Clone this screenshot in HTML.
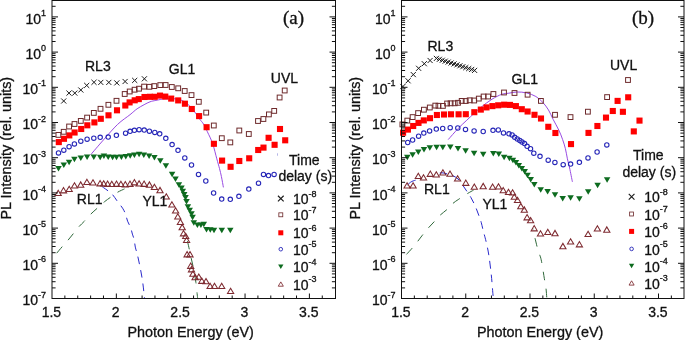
<!DOCTYPE html><html><head><meta charset="utf-8"><style>html,body{margin:0;padding:0;background:#fff;overflow:hidden}svg{display:block;will-change:transform} text{stroke:#111;stroke-width:0.3px}</style></head><body><svg width="685" height="340" viewBox="0 0 685 340" style="font-family:'Liberation Sans',sans-serif">
<rect width="685" height="340" fill="#fff"/>
<path d="M90.80,154.60C92.90,152.17 98.93,145.03 103.40,140.00C107.87,134.97 113.17,128.62 117.60,124.40C122.03,120.18 126.75,117.30 130.00,114.70C133.25,112.10 134.75,110.47 137.10,108.80C139.45,107.13 141.95,105.87 144.10,104.70C146.25,103.53 148.03,102.52 150.00,101.80C151.97,101.08 153.40,100.90 155.90,100.40C158.40,99.90 161.82,99.07 165.00,98.80C168.18,98.53 171.83,98.35 175.00,98.80C178.17,99.25 181.17,99.88 184.00,101.50C186.83,103.12 189.43,105.62 192.00,108.50C194.57,111.38 197.47,116.18 199.40,118.80C201.33,121.42 202.27,122.03 203.60,124.20C204.93,126.37 205.90,128.58 207.40,131.80C208.90,135.02 211.03,139.00 212.60,143.50C214.17,148.00 215.65,154.63 216.80,158.80C217.95,162.97 218.73,165.55 219.50,168.50C220.27,171.45 220.75,173.35 221.40,176.50C222.05,179.65 223.07,185.58 223.40,187.40" fill="none" stroke="#9240e0" stroke-width="0.95"/>
<path d="M56.70,253.20C57.68,252.03 60.73,248.35 62.60,246.20C64.47,244.05 66.13,242.37 67.90,240.30C69.67,238.23 71.33,236.10 73.20,233.80C75.07,231.50 77.23,228.60 79.10,226.50C80.97,224.40 82.45,223.27 84.40,221.20C86.35,219.13 88.65,216.27 90.80,214.10C92.95,211.93 95.03,210.25 97.30,208.20C99.57,206.15 102.15,203.65 104.40,201.80C106.65,199.95 108.65,198.67 110.80,197.10C112.95,195.53 115.02,193.77 117.30,192.40C119.58,191.03 123.30,189.48 124.50,188.90" fill="none" stroke="#30693b" stroke-width="1.0" stroke-dasharray="8.5,8.8" stroke-dashoffset="0.00"/>
<path d="M186.60,238.00C186.90,239.22 187.63,241.95 188.40,245.30C189.17,248.65 190.30,253.98 191.20,258.10C192.10,262.22 193.02,265.95 193.80,270.00C194.58,274.05 195.35,278.50 195.90,282.40C196.45,286.30 196.82,290.80 197.10,293.40C197.38,296.00 197.52,297.23 197.60,298.00" fill="none" stroke="#30693b" stroke-width="1.0" stroke-dasharray="8.5,8.8" stroke-dashoffset="13.98"/>
<path d="M101.20,185.80C101.58,186.10 102.37,186.77 103.50,187.60C104.63,188.43 106.48,189.62 108.00,190.80C109.52,191.98 111.05,192.97 112.60,194.70C114.15,196.43 115.63,198.95 117.30,201.20C118.97,203.45 121.23,206.05 122.60,208.20C123.97,210.35 124.67,211.93 125.50,214.10C126.33,216.27 126.75,218.95 127.60,221.20C128.45,223.45 129.80,225.45 130.60,227.60C131.40,229.75 131.82,232.13 132.40,234.10C132.98,236.07 133.62,237.23 134.10,239.40C134.58,241.57 134.80,244.75 135.30,247.10C135.80,249.45 136.48,251.02 137.10,253.50C137.72,255.98 138.35,258.92 139.00,262.00C139.65,265.08 140.37,268.50 141.00,272.00C141.63,275.50 142.22,278.67 142.80,283.00C143.38,287.33 144.22,295.50 144.50,298.00" fill="none" stroke="#2a2acc" stroke-width="1.0" stroke-dasharray="7.6,6.0" stroke-dashoffset="12.71"/>
<path d="M55.10,195.55H61.30L58.20,190.30Z" fill="none" stroke="#7e2a30" stroke-width="1.05" stroke-linejoin="miter"/>
<path d="M60.40,192.85H66.60L63.50,187.60Z" fill="none" stroke="#7e2a30" stroke-width="1.05" stroke-linejoin="miter"/>
<path d="M66.10,191.55H72.30L69.20,186.30Z" fill="none" stroke="#7e2a30" stroke-width="1.05" stroke-linejoin="miter"/>
<path d="M71.40,188.05H77.60L74.50,182.80Z" fill="none" stroke="#7e2a30" stroke-width="1.05" stroke-linejoin="miter"/>
<path d="M77.60,187.15H83.80L80.70,181.90Z" fill="none" stroke="#7e2a30" stroke-width="1.05" stroke-linejoin="miter"/>
<path d="M83.80,184.55H90.00L86.90,179.30Z" fill="none" stroke="#7e2a30" stroke-width="1.05" stroke-linejoin="miter"/>
<path d="M89.90,184.95H96.10L93.00,179.70Z" fill="none" stroke="#7e2a30" stroke-width="1.05" stroke-linejoin="miter"/>
<path d="M97.00,185.85H103.20L100.10,180.60Z" fill="none" stroke="#7e2a30" stroke-width="1.05" stroke-linejoin="miter"/>
<path d="M100.60,185.95H106.80L103.70,180.70Z" fill="none" stroke="#7e2a30" stroke-width="1.05" stroke-linejoin="miter"/>
<path d="M104.50,186.35H110.70L107.60,181.10Z" fill="none" stroke="#7e2a30" stroke-width="1.05" stroke-linejoin="miter"/>
<path d="M108.70,186.55H114.90L111.80,181.30Z" fill="none" stroke="#7e2a30" stroke-width="1.05" stroke-linejoin="miter"/>
<path d="M113.40,186.35H119.60L116.50,181.10Z" fill="none" stroke="#7e2a30" stroke-width="1.05" stroke-linejoin="miter"/>
<path d="M117.80,186.55H124.00L120.90,181.30Z" fill="none" stroke="#7e2a30" stroke-width="1.05" stroke-linejoin="miter"/>
<path d="M122.20,186.85H128.40L125.30,181.60Z" fill="none" stroke="#7e2a30" stroke-width="1.05" stroke-linejoin="miter"/>
<path d="M126.90,186.35H133.10L130.00,181.10Z" fill="none" stroke="#7e2a30" stroke-width="1.05" stroke-linejoin="miter"/>
<path d="M131.30,184.85H137.50L134.40,179.60Z" fill="none" stroke="#7e2a30" stroke-width="1.05" stroke-linejoin="miter"/>
<path d="M136.00,185.95H142.20L139.10,180.70Z" fill="none" stroke="#7e2a30" stroke-width="1.05" stroke-linejoin="miter"/>
<path d="M141.00,186.35H147.20L144.10,181.10Z" fill="none" stroke="#7e2a30" stroke-width="1.05" stroke-linejoin="miter"/>
<path d="M146.30,187.15H152.50L149.40,181.90Z" fill="none" stroke="#7e2a30" stroke-width="1.05" stroke-linejoin="miter"/>
<path d="M151.30,189.55H157.50L154.40,184.30Z" fill="none" stroke="#7e2a30" stroke-width="1.05" stroke-linejoin="miter"/>
<path d="M156.90,192.65H163.10L160.00,187.40Z" fill="none" stroke="#7e2a30" stroke-width="1.05" stroke-linejoin="miter"/>
<path d="M163.20,198.95H169.40L166.30,193.70Z" fill="none" stroke="#7e2a30" stroke-width="1.05" stroke-linejoin="miter"/>
<path d="M168.80,207.05H175.00L171.90,201.80Z" fill="none" stroke="#7e2a30" stroke-width="1.05" stroke-linejoin="miter"/>
<path d="M172.50,213.05H178.70L175.60,207.80Z" fill="none" stroke="#7e2a30" stroke-width="1.05" stroke-linejoin="miter"/>
<path d="M174.70,219.05H180.90L177.80,213.80Z" fill="none" stroke="#7e2a30" stroke-width="1.05" stroke-linejoin="miter"/>
<path d="M177.30,224.45H183.50L180.40,219.20Z" fill="none" stroke="#7e2a30" stroke-width="1.05" stroke-linejoin="miter"/>
<path d="M179.10,229.65H185.30L182.20,224.40Z" fill="none" stroke="#7e2a30" stroke-width="1.05" stroke-linejoin="miter"/>
<path d="M180.40,235.85H186.60L183.50,230.60Z" fill="none" stroke="#7e2a30" stroke-width="1.05" stroke-linejoin="miter"/>
<path d="M182.60,238.45H188.80L185.70,233.20Z" fill="none" stroke="#7e2a30" stroke-width="1.05" stroke-linejoin="miter"/>
<path d="M183.50,242.45H189.70L186.60,237.20Z" fill="none" stroke="#7e2a30" stroke-width="1.05" stroke-linejoin="miter"/>
<path d="M184.00,256.85H190.20L187.10,251.60Z" fill="none" stroke="#7e2a30" stroke-width="1.05" stroke-linejoin="miter"/>
<path d="M186.90,256.85H193.10L190.00,251.60Z" fill="none" stroke="#7e2a30" stroke-width="1.05" stroke-linejoin="miter"/>
<path d="M187.60,268.35H193.80L190.70,263.10Z" fill="none" stroke="#7e2a30" stroke-width="1.05" stroke-linejoin="miter"/>
<path d="M188.40,271.85H194.60L191.50,266.60Z" fill="none" stroke="#7e2a30" stroke-width="1.05" stroke-linejoin="miter"/>
<path d="M189.80,276.25H196.00L192.90,271.00Z" fill="none" stroke="#7e2a30" stroke-width="1.05" stroke-linejoin="miter"/>
<path d="M192.00,279.65H198.20L195.10,274.40Z" fill="none" stroke="#7e2a30" stroke-width="1.05" stroke-linejoin="miter"/>
<path d="M195.70,279.25H201.90L198.80,274.00Z" fill="none" stroke="#7e2a30" stroke-width="1.05" stroke-linejoin="miter"/>
<path d="M198.70,283.35H204.90L201.80,278.10Z" fill="none" stroke="#7e2a30" stroke-width="1.05" stroke-linejoin="miter"/>
<path d="M202.90,283.75H209.10L206.00,278.50Z" fill="none" stroke="#7e2a30" stroke-width="1.05" stroke-linejoin="miter"/>
<path d="M207.00,288.55H213.20L210.10,283.30Z" fill="none" stroke="#7e2a30" stroke-width="1.05" stroke-linejoin="miter"/>
<path d="M211.40,288.55H217.60L214.50,283.30Z" fill="none" stroke="#7e2a30" stroke-width="1.05" stroke-linejoin="miter"/>
<path d="M218.60,288.45H224.80L221.70,283.20Z" fill="none" stroke="#7e2a30" stroke-width="1.05" stroke-linejoin="miter"/>
<path d="M227.50,293.55H233.70L230.60,288.30Z" fill="none" stroke="#7e2a30" stroke-width="1.05" stroke-linejoin="miter"/>
<path d="M55.25,165.90H61.75L58.50,171.40Z" fill="#0d6b1f"/>
<path d="M60.55,162.40H67.05L63.80,167.90Z" fill="#0d6b1f"/>
<path d="M65.85,159.80H72.35L69.10,165.30Z" fill="#0d6b1f"/>
<path d="M71.15,156.80H77.65L74.40,162.30Z" fill="#0d6b1f"/>
<path d="M77.55,155.60H84.05L80.80,161.10Z" fill="#0d6b1f"/>
<path d="M83.85,154.40H90.35L87.10,159.90Z" fill="#0d6b1f"/>
<path d="M90.55,154.40H97.05L93.80,159.90Z" fill="#0d6b1f"/>
<path d="M96.95,154.70H103.45L100.20,160.20Z" fill="#0d6b1f"/>
<path d="M100.65,153.40H107.15L103.90,158.90Z" fill="#0d6b1f"/>
<path d="M104.95,154.60H111.45L108.20,160.10Z" fill="#0d6b1f"/>
<path d="M109.35,154.70H115.85L112.60,160.20Z" fill="#0d6b1f"/>
<path d="M113.25,154.80H119.75L116.50,160.30Z" fill="#0d6b1f"/>
<path d="M118.15,154.40H124.65L121.40,159.90Z" fill="#0d6b1f"/>
<path d="M122.55,153.90H129.05L125.80,159.40Z" fill="#0d6b1f"/>
<path d="M126.95,153.30H133.45L130.20,158.80Z" fill="#0d6b1f"/>
<path d="M131.15,152.40H137.65L134.40,157.90Z" fill="#0d6b1f"/>
<path d="M135.85,151.80H142.35L139.10,157.30Z" fill="#0d6b1f"/>
<path d="M140.55,152.40H147.05L143.80,157.90Z" fill="#0d6b1f"/>
<path d="M145.85,153.60H152.35L149.10,159.10Z" fill="#0d6b1f"/>
<path d="M151.15,155.10H157.65L154.40,160.60Z" fill="#0d6b1f"/>
<path d="M157.05,158.30H163.55L160.30,163.80Z" fill="#0d6b1f"/>
<path d="M162.65,163.30H169.15L165.90,168.80Z" fill="#0d6b1f"/>
<path d="M168.85,171.80H175.35L172.10,177.30Z" fill="#0d6b1f"/>
<path d="M172.25,176.40H178.75L175.50,181.90Z" fill="#0d6b1f"/>
<path d="M175.65,182.20H182.15L178.90,187.70Z" fill="#0d6b1f"/>
<path d="M178.25,185.60H184.75L181.50,191.10Z" fill="#0d6b1f"/>
<path d="M179.55,188.70H186.05L182.80,194.20Z" fill="#0d6b1f"/>
<path d="M180.95,191.90H187.45L184.20,197.40Z" fill="#0d6b1f"/>
<path d="M182.25,194.90H188.75L185.50,200.40Z" fill="#0d6b1f"/>
<path d="M183.25,198.90H189.75L186.50,204.40Z" fill="#0d6b1f"/>
<path d="M184.65,204.20H191.15L187.90,209.70Z" fill="#0d6b1f"/>
<path d="M186.45,207.70H192.95L189.70,213.20Z" fill="#0d6b1f"/>
<path d="M188.25,211.20H194.75L191.50,216.70Z" fill="#0d6b1f"/>
<path d="M189.35,214.80H195.85L192.60,220.30Z" fill="#0d6b1f"/>
<path d="M190.55,220.20H197.05L193.80,225.70Z" fill="#0d6b1f"/>
<path d="M194.15,222.40H200.65L197.40,227.90Z" fill="#0d6b1f"/>
<path d="M197.65,222.40H204.15L200.90,227.90Z" fill="#0d6b1f"/>
<path d="M200.55,221.80H207.05L203.80,227.30Z" fill="#0d6b1f"/>
<path d="M203.25,227.10H209.75L206.50,232.60Z" fill="#0d6b1f"/>
<path d="M207.05,227.30H213.55L210.30,232.80Z" fill="#0d6b1f"/>
<path d="M210.75,227.70H217.25L214.00,233.20Z" fill="#0d6b1f"/>
<path d="M218.55,227.70H225.05L221.80,233.20Z" fill="#0d6b1f"/>
<path d="M227.05,227.70H233.55L230.30,233.20Z" fill="#0d6b1f"/>
<circle cx="58.50" cy="152.90" r="2.2" fill="none" stroke="#2626b8" stroke-width="1.1"/>
<circle cx="63.80" cy="150.20" r="2.2" fill="none" stroke="#2626b8" stroke-width="1.1"/>
<circle cx="69.10" cy="146.70" r="2.2" fill="none" stroke="#2626b8" stroke-width="1.1"/>
<circle cx="74.40" cy="143.90" r="2.2" fill="none" stroke="#2626b8" stroke-width="1.1"/>
<circle cx="80.80" cy="141.20" r="2.2" fill="none" stroke="#2626b8" stroke-width="1.1"/>
<circle cx="87.10" cy="139.20" r="2.2" fill="none" stroke="#2626b8" stroke-width="1.1"/>
<circle cx="93.80" cy="138.20" r="2.2" fill="none" stroke="#2626b8" stroke-width="1.1"/>
<circle cx="100.20" cy="137.30" r="2.2" fill="none" stroke="#2626b8" stroke-width="1.1"/>
<circle cx="108.20" cy="137.10" r="2.2" fill="none" stroke="#2626b8" stroke-width="1.1"/>
<circle cx="116.40" cy="135.30" r="2.2" fill="none" stroke="#2626b8" stroke-width="1.1"/>
<circle cx="125.60" cy="133.20" r="2.2" fill="none" stroke="#2626b8" stroke-width="1.1"/>
<circle cx="130.10" cy="131.30" r="2.2" fill="none" stroke="#2626b8" stroke-width="1.1"/>
<circle cx="134.40" cy="130.30" r="2.2" fill="none" stroke="#2626b8" stroke-width="1.1"/>
<circle cx="139.10" cy="129.70" r="2.2" fill="none" stroke="#2626b8" stroke-width="1.1"/>
<circle cx="144.20" cy="130.10" r="2.2" fill="none" stroke="#2626b8" stroke-width="1.1"/>
<circle cx="149.40" cy="131.20" r="2.2" fill="none" stroke="#2626b8" stroke-width="1.1"/>
<circle cx="154.80" cy="132.40" r="2.2" fill="none" stroke="#2626b8" stroke-width="1.1"/>
<circle cx="159.70" cy="133.80" r="2.2" fill="none" stroke="#2626b8" stroke-width="1.1"/>
<circle cx="165.80" cy="138.30" r="2.2" fill="none" stroke="#2626b8" stroke-width="1.1"/>
<circle cx="172.10" cy="144.60" r="2.2" fill="none" stroke="#2626b8" stroke-width="1.1"/>
<circle cx="178.00" cy="150.30" r="2.2" fill="none" stroke="#2626b8" stroke-width="1.1"/>
<circle cx="184.80" cy="157.90" r="2.2" fill="none" stroke="#2626b8" stroke-width="1.1"/>
<circle cx="191.50" cy="165.00" r="2.2" fill="none" stroke="#2626b8" stroke-width="1.1"/>
<circle cx="198.50" cy="174.40" r="2.2" fill="none" stroke="#2626b8" stroke-width="1.1"/>
<circle cx="205.80" cy="181.00" r="2.2" fill="none" stroke="#2626b8" stroke-width="1.1"/>
<circle cx="213.60" cy="193.00" r="2.2" fill="none" stroke="#2626b8" stroke-width="1.1"/>
<circle cx="221.70" cy="199.10" r="2.2" fill="none" stroke="#2626b8" stroke-width="1.1"/>
<circle cx="230.30" cy="199.30" r="2.2" fill="none" stroke="#2626b8" stroke-width="1.1"/>
<circle cx="238.90" cy="196.30" r="2.2" fill="none" stroke="#2626b8" stroke-width="1.1"/>
<circle cx="248.80" cy="189.10" r="2.2" fill="none" stroke="#2626b8" stroke-width="1.1"/>
<circle cx="258.50" cy="183.20" r="2.2" fill="none" stroke="#2626b8" stroke-width="1.1"/>
<circle cx="263.50" cy="174.40" r="2.2" fill="none" stroke="#2626b8" stroke-width="1.1"/>
<circle cx="268.50" cy="175.60" r="2.2" fill="none" stroke="#2626b8" stroke-width="1.1"/>
<circle cx="274.10" cy="174.40" r="2.2" fill="none" stroke="#2626b8" stroke-width="1.1"/>
<circle cx="280.30" cy="154.50" r="2.2" fill="none" stroke="#2626b8" stroke-width="1.1"/>
<rect x="55.75" y="139.05" width="6.1" height="6.1" fill="#ff0000"/>
<rect x="60.95" y="135.75" width="6.1" height="6.1" fill="#ff0000"/>
<rect x="66.25" y="132.35" width="6.1" height="6.1" fill="#ff0000"/>
<rect x="71.55" y="129.45" width="6.1" height="6.1" fill="#ff0000"/>
<rect x="78.15" y="125.95" width="6.1" height="6.1" fill="#ff0000"/>
<rect x="84.25" y="122.25" width="6.1" height="6.1" fill="#ff0000"/>
<rect x="91.35" y="119.35" width="6.1" height="6.1" fill="#ff0000"/>
<rect x="97.75" y="115.75" width="6.1" height="6.1" fill="#ff0000"/>
<rect x="105.45" y="112.25" width="6.1" height="6.1" fill="#ff0000"/>
<rect x="113.95" y="107.25" width="6.1" height="6.1" fill="#ff0000"/>
<rect x="122.25" y="102.45" width="6.1" height="6.1" fill="#ff0000"/>
<rect x="126.55" y="99.35" width="6.1" height="6.1" fill="#ff0000"/>
<rect x="131.65" y="97.25" width="6.1" height="6.1" fill="#ff0000"/>
<rect x="135.75" y="96.05" width="6.1" height="6.1" fill="#ff0000"/>
<rect x="141.45" y="93.95" width="6.1" height="6.1" fill="#ff0000"/>
<rect x="146.95" y="93.75" width="6.1" height="6.1" fill="#ff0000"/>
<rect x="151.65" y="93.75" width="6.1" height="6.1" fill="#ff0000"/>
<rect x="156.95" y="92.55" width="6.1" height="6.1" fill="#ff0000"/>
<rect x="162.25" y="93.55" width="6.1" height="6.1" fill="#ff0000"/>
<rect x="168.15" y="95.55" width="6.1" height="6.1" fill="#ff0000"/>
<rect x="175.15" y="97.35" width="6.1" height="6.1" fill="#ff0000"/>
<rect x="181.85" y="100.65" width="6.1" height="6.1" fill="#ff0000"/>
<rect x="188.75" y="105.95" width="6.1" height="6.1" fill="#ff0000"/>
<rect x="196.05" y="113.05" width="6.1" height="6.1" fill="#ff0000"/>
<rect x="203.55" y="124.15" width="6.1" height="6.1" fill="#ff0000"/>
<rect x="210.85" y="140.75" width="6.1" height="6.1" fill="#ff0000"/>
<rect x="219.05" y="157.55" width="6.1" height="6.1" fill="#ff0000"/>
<rect x="227.55" y="163.75" width="6.1" height="6.1" fill="#ff0000"/>
<rect x="236.25" y="157.95" width="6.1" height="6.1" fill="#ff0000"/>
<rect x="246.15" y="155.25" width="6.1" height="6.1" fill="#ff0000"/>
<rect x="255.15" y="146.95" width="6.1" height="6.1" fill="#ff0000"/>
<rect x="260.45" y="144.55" width="6.1" height="6.1" fill="#ff0000"/>
<rect x="265.55" y="134.75" width="6.1" height="6.1" fill="#ff0000"/>
<rect x="271.55" y="141.75" width="6.1" height="6.1" fill="#ff0000"/>
<rect x="276.95" y="125.95" width="6.1" height="6.1" fill="#ff0000"/>
<rect x="282.15" y="137.25" width="6.1" height="6.1" fill="#ff0000"/>
<rect x="56.00" y="132.50" width="4.8" height="4.8" fill="none" stroke="#6e2a2c" stroke-width="1.0"/>
<rect x="61.30" y="129.40" width="4.8" height="4.8" fill="none" stroke="#6e2a2c" stroke-width="1.0"/>
<rect x="66.70" y="124.10" width="4.8" height="4.8" fill="none" stroke="#6e2a2c" stroke-width="1.0"/>
<rect x="72.10" y="121.60" width="4.8" height="4.8" fill="none" stroke="#6e2a2c" stroke-width="1.0"/>
<rect x="78.40" y="118.50" width="4.8" height="4.8" fill="none" stroke="#6e2a2c" stroke-width="1.0"/>
<rect x="84.70" y="115.20" width="4.8" height="4.8" fill="none" stroke="#6e2a2c" stroke-width="1.0"/>
<rect x="91.40" y="110.50" width="4.8" height="4.8" fill="none" stroke="#6e2a2c" stroke-width="1.0"/>
<rect x="98.10" y="106.40" width="4.8" height="4.8" fill="none" stroke="#6e2a2c" stroke-width="1.0"/>
<rect x="106.00" y="102.40" width="4.8" height="4.8" fill="none" stroke="#6e2a2c" stroke-width="1.0"/>
<rect x="114.10" y="98.40" width="4.8" height="4.8" fill="none" stroke="#6e2a2c" stroke-width="1.0"/>
<rect x="122.30" y="91.60" width="4.8" height="4.8" fill="none" stroke="#6e2a2c" stroke-width="1.0"/>
<rect x="127.30" y="89.10" width="4.8" height="4.8" fill="none" stroke="#6e2a2c" stroke-width="1.0"/>
<rect x="132.20" y="87.30" width="4.8" height="4.8" fill="none" stroke="#6e2a2c" stroke-width="1.0"/>
<rect x="136.60" y="86.30" width="4.8" height="4.8" fill="none" stroke="#6e2a2c" stroke-width="1.0"/>
<rect x="141.70" y="84.20" width="4.8" height="4.8" fill="none" stroke="#6e2a2c" stroke-width="1.0"/>
<rect x="147.00" y="84.40" width="4.8" height="4.8" fill="none" stroke="#6e2a2c" stroke-width="1.0"/>
<rect x="151.90" y="83.70" width="4.8" height="4.8" fill="none" stroke="#6e2a2c" stroke-width="1.0"/>
<rect x="157.90" y="82.70" width="4.8" height="4.8" fill="none" stroke="#6e2a2c" stroke-width="1.0"/>
<rect x="163.20" y="82.60" width="4.8" height="4.8" fill="none" stroke="#6e2a2c" stroke-width="1.0"/>
<rect x="169.40" y="84.60" width="4.8" height="4.8" fill="none" stroke="#6e2a2c" stroke-width="1.0"/>
<rect x="175.80" y="85.90" width="4.8" height="4.8" fill="none" stroke="#6e2a2c" stroke-width="1.0"/>
<rect x="182.30" y="88.60" width="4.8" height="4.8" fill="none" stroke="#6e2a2c" stroke-width="1.0"/>
<rect x="189.10" y="92.70" width="4.8" height="4.8" fill="none" stroke="#6e2a2c" stroke-width="1.0"/>
<rect x="196.40" y="99.40" width="4.8" height="4.8" fill="none" stroke="#6e2a2c" stroke-width="1.0"/>
<rect x="203.80" y="110.20" width="4.8" height="4.8" fill="none" stroke="#6e2a2c" stroke-width="1.0"/>
<rect x="211.40" y="123.10" width="4.8" height="4.8" fill="none" stroke="#6e2a2c" stroke-width="1.0"/>
<rect x="219.40" y="135.80" width="4.8" height="4.8" fill="none" stroke="#6e2a2c" stroke-width="1.0"/>
<rect x="227.90" y="140.00" width="4.8" height="4.8" fill="none" stroke="#6e2a2c" stroke-width="1.0"/>
<rect x="236.90" y="128.10" width="4.8" height="4.8" fill="none" stroke="#6e2a2c" stroke-width="1.0"/>
<rect x="246.40" y="131.60" width="4.8" height="4.8" fill="none" stroke="#6e2a2c" stroke-width="1.0"/>
<rect x="255.60" y="118.60" width="4.8" height="4.8" fill="none" stroke="#6e2a2c" stroke-width="1.0"/>
<rect x="261.00" y="116.60" width="4.8" height="4.8" fill="none" stroke="#6e2a2c" stroke-width="1.0"/>
<rect x="266.50" y="112.00" width="4.8" height="4.8" fill="none" stroke="#6e2a2c" stroke-width="1.0"/>
<rect x="271.80" y="108.50" width="4.8" height="4.8" fill="none" stroke="#6e2a2c" stroke-width="1.0"/>
<rect x="277.20" y="95.10" width="4.8" height="4.8" fill="none" stroke="#6e2a2c" stroke-width="1.0"/>
<rect x="282.30" y="88.10" width="4.8" height="4.8" fill="none" stroke="#6e2a2c" stroke-width="1.0"/>
<path d="M61.15,98.45L66.25,103.55M61.15,103.55L66.25,98.45" stroke="#1a1a1a" stroke-width="1.0" fill="none"/>
<path d="M66.45,90.55L71.55,95.65M66.45,95.65L71.55,90.55" stroke="#1a1a1a" stroke-width="1.0" fill="none"/>
<path d="M72.25,90.55L77.35,95.65M72.25,95.65L77.35,90.55" stroke="#1a1a1a" stroke-width="1.0" fill="none"/>
<path d="M78.25,87.45L83.35,92.55M78.25,92.55L83.35,87.45" stroke="#1a1a1a" stroke-width="1.0" fill="none"/>
<path d="M84.15,82.85L89.25,87.95M84.15,87.95L89.25,82.85" stroke="#1a1a1a" stroke-width="1.0" fill="none"/>
<path d="M91.45,79.75L96.55,84.85M91.45,84.85L96.55,79.75" stroke="#1a1a1a" stroke-width="1.0" fill="none"/>
<path d="M98.25,79.85L103.35,84.95M98.25,84.95L103.35,79.85" stroke="#1a1a1a" stroke-width="1.0" fill="none"/>
<path d="M106.25,79.85L111.35,84.95M106.25,84.95L111.35,79.85" stroke="#1a1a1a" stroke-width="1.0" fill="none"/>
<path d="M114.25,80.35L119.35,85.45M114.25,85.45L119.35,80.35" stroke="#1a1a1a" stroke-width="1.0" fill="none"/>
<path d="M122.55,78.95L127.65,84.05M122.55,84.05L127.65,78.95" stroke="#1a1a1a" stroke-width="1.0" fill="none"/>
<path d="M132.15,77.85L137.25,82.95M132.15,82.95L137.25,77.85" stroke="#1a1a1a" stroke-width="1.0" fill="none"/>
<path d="M141.85,76.25L146.95,81.35M141.85,81.35L146.95,76.25" stroke="#1a1a1a" stroke-width="1.0" fill="none"/>
<path d="M448.20,139.60C449.87,137.73 455.10,131.63 458.20,128.40C461.30,125.17 464.17,122.68 466.80,120.20C469.43,117.72 471.53,115.73 474.00,113.50C476.47,111.27 478.60,109.18 481.60,106.80C484.60,104.42 488.63,101.28 492.00,99.20C495.37,97.12 499.00,95.30 501.80,94.30C504.60,93.30 506.25,93.58 508.80,93.20C511.35,92.82 514.15,92.05 517.10,92.00C520.05,91.95 523.37,92.15 526.50,92.90C529.63,93.65 533.17,94.90 535.90,96.50C538.63,98.10 540.80,100.25 542.90,102.50C545.00,104.75 546.78,107.17 548.50,110.00C550.22,112.83 551.48,116.15 553.20,119.50C554.92,122.85 557.23,126.77 558.80,130.10C560.37,133.43 561.50,136.40 562.60,139.50C563.70,142.60 564.60,145.48 565.40,148.70C566.20,151.92 566.70,155.58 567.40,158.80C568.10,162.02 568.77,164.17 569.60,168.00C570.43,171.83 571.93,179.50 572.40,181.80" fill="none" stroke="#9240e0" stroke-width="0.95"/>
<path d="M406.50,254.40C407.48,253.32 410.55,250.05 412.40,247.90C414.25,245.75 415.93,243.62 417.60,241.50C419.27,239.38 420.73,237.32 422.40,235.20C424.07,233.08 425.65,231.03 427.60,228.80C429.55,226.57 432.03,224.05 434.10,221.80C436.17,219.55 437.83,217.37 440.00,215.30C442.17,213.23 444.95,211.38 447.10,209.40C449.25,207.42 450.95,205.10 452.90,203.40C454.85,201.70 456.38,200.83 458.80,199.20C461.22,197.57 464.93,195.12 467.40,193.60C469.87,192.08 472.57,190.68 473.60,190.10" fill="none" stroke="#30693b" stroke-width="1.0" stroke-dasharray="8.5,8.8" stroke-dashoffset="0.00"/>
<path d="M532.60,228.00C532.77,228.83 533.20,231.30 533.60,233.00C534.00,234.70 534.25,235.27 535.00,238.20C535.75,241.13 537.07,247.00 538.10,250.60C539.13,254.20 540.17,255.18 541.20,259.80C542.23,264.42 543.52,273.67 544.30,278.30C545.08,282.93 545.48,284.32 545.90,287.60C546.32,290.88 546.65,296.27 546.80,298.00" fill="none" stroke="#30693b" stroke-width="1.0" stroke-dasharray="8.5,8.8" stroke-dashoffset="6.82"/>
<path d="M407.50,185.00C408.02,184.53 409.65,182.88 410.60,182.20C411.55,181.52 412.20,181.28 413.20,180.90C414.20,180.52 416.03,180.07 416.60,179.90" fill="none" stroke="#2a2acc" stroke-width="1.0" stroke-dasharray="9.5,6" stroke-dashoffset="0.00"/>
<path d="M437.50,173.20C438.25,173.13 440.58,172.73 442.00,172.80C443.42,172.87 444.27,173.15 446.00,173.60C447.73,174.05 450.40,174.60 452.40,175.50C454.40,176.40 456.30,177.42 458.00,179.00C459.70,180.58 461.10,182.92 462.60,185.00C464.10,187.08 465.63,189.45 467.00,191.50C468.37,193.55 469.62,195.28 470.80,197.30C471.98,199.32 473.10,201.48 474.10,203.60C475.10,205.72 475.92,207.77 476.80,210.00C477.68,212.23 478.67,214.95 479.40,217.00C480.13,219.05 480.62,220.23 481.20,222.30C481.78,224.37 482.38,227.33 482.90,229.40C483.42,231.47 483.73,232.52 484.30,234.70C484.87,236.88 485.55,239.12 486.30,242.50C487.05,245.88 487.97,249.58 488.80,255.00C489.63,260.42 490.60,268.33 491.30,275.00C492.00,281.67 492.67,291.17 493.00,295.00C493.33,298.83 493.25,297.50 493.30,298.00" fill="none" stroke="#2a2acc" stroke-width="1.0" stroke-dasharray="7.6,6.0" stroke-dashoffset="11.29"/>
<path d="M404.00,187.95H410.20L407.10,182.70Z" fill="none" stroke="#7e2a30" stroke-width="1.05" stroke-linejoin="miter"/>
<path d="M410.00,187.95H416.20L413.10,182.70Z" fill="none" stroke="#7e2a30" stroke-width="1.05" stroke-linejoin="miter"/>
<path d="M415.20,178.55H421.40L418.30,173.30Z" fill="none" stroke="#7e2a30" stroke-width="1.05" stroke-linejoin="miter"/>
<path d="M420.40,179.95H426.60L423.50,174.70Z" fill="none" stroke="#7e2a30" stroke-width="1.05" stroke-linejoin="miter"/>
<path d="M427.20,176.35H433.40L430.30,171.10Z" fill="none" stroke="#7e2a30" stroke-width="1.05" stroke-linejoin="miter"/>
<path d="M433.20,177.05H439.40L436.30,171.80Z" fill="none" stroke="#7e2a30" stroke-width="1.05" stroke-linejoin="miter"/>
<path d="M439.80,175.05H446.00L442.90,169.80Z" fill="none" stroke="#7e2a30" stroke-width="1.05" stroke-linejoin="miter"/>
<path d="M446.90,176.25H453.10L450.00,171.00Z" fill="none" stroke="#7e2a30" stroke-width="1.05" stroke-linejoin="miter"/>
<path d="M454.50,180.95H460.70L457.60,175.70Z" fill="none" stroke="#7e2a30" stroke-width="1.05" stroke-linejoin="miter"/>
<path d="M462.70,185.35H468.90L465.80,180.10Z" fill="none" stroke="#7e2a30" stroke-width="1.05" stroke-linejoin="miter"/>
<path d="M471.20,189.25H477.40L474.30,184.00Z" fill="none" stroke="#7e2a30" stroke-width="1.05" stroke-linejoin="miter"/>
<path d="M480.10,188.65H486.30L483.20,183.40Z" fill="none" stroke="#7e2a30" stroke-width="1.05" stroke-linejoin="miter"/>
<path d="M489.50,189.25H495.70L492.60,184.00Z" fill="none" stroke="#7e2a30" stroke-width="1.05" stroke-linejoin="miter"/>
<path d="M495.40,188.95H501.60L498.50,183.70Z" fill="none" stroke="#7e2a30" stroke-width="1.05" stroke-linejoin="miter"/>
<path d="M500.10,192.75H506.30L503.20,187.50Z" fill="none" stroke="#7e2a30" stroke-width="1.05" stroke-linejoin="miter"/>
<path d="M505.40,194.55H511.60L508.50,189.30Z" fill="none" stroke="#7e2a30" stroke-width="1.05" stroke-linejoin="miter"/>
<path d="M509.50,195.05H515.70L512.60,189.80Z" fill="none" stroke="#7e2a30" stroke-width="1.05" stroke-linejoin="miter"/>
<path d="M511.20,199.25H517.40L514.30,194.00Z" fill="none" stroke="#7e2a30" stroke-width="1.05" stroke-linejoin="miter"/>
<path d="M514.40,202.45H520.60L517.50,197.20Z" fill="none" stroke="#7e2a30" stroke-width="1.05" stroke-linejoin="miter"/>
<path d="M517.70,208.65H523.90L520.80,203.40Z" fill="none" stroke="#7e2a30" stroke-width="1.05" stroke-linejoin="miter"/>
<path d="M521.20,212.15H527.40L524.30,206.90Z" fill="none" stroke="#7e2a30" stroke-width="1.05" stroke-linejoin="miter"/>
<path d="M524.00,219.85H530.20L527.10,214.60Z" fill="none" stroke="#7e2a30" stroke-width="1.05" stroke-linejoin="miter"/>
<path d="M527.50,222.75H533.70L530.60,217.50Z" fill="none" stroke="#7e2a30" stroke-width="1.05" stroke-linejoin="miter"/>
<path d="M531.10,230.85H537.30L534.20,225.60Z" fill="none" stroke="#7e2a30" stroke-width="1.05" stroke-linejoin="miter"/>
<path d="M537.40,235.95H543.60L540.50,230.70Z" fill="none" stroke="#7e2a30" stroke-width="1.05" stroke-linejoin="miter"/>
<path d="M544.70,234.55H550.90L547.80,229.30Z" fill="none" stroke="#7e2a30" stroke-width="1.05" stroke-linejoin="miter"/>
<path d="M551.90,235.65H558.10L555.00,230.40Z" fill="none" stroke="#7e2a30" stroke-width="1.05" stroke-linejoin="miter"/>
<path d="M559.80,248.65H566.00L562.90,243.40Z" fill="none" stroke="#7e2a30" stroke-width="1.05" stroke-linejoin="miter"/>
<path d="M567.50,243.95H573.70L570.60,238.70Z" fill="none" stroke="#7e2a30" stroke-width="1.05" stroke-linejoin="miter"/>
<path d="M576.30,246.85H582.50L579.40,241.60Z" fill="none" stroke="#7e2a30" stroke-width="1.05" stroke-linejoin="miter"/>
<path d="M585.00,236.45H591.20L588.10,231.20Z" fill="none" stroke="#7e2a30" stroke-width="1.05" stroke-linejoin="miter"/>
<path d="M594.30,230.95H600.50L597.40,225.70Z" fill="none" stroke="#7e2a30" stroke-width="1.05" stroke-linejoin="miter"/>
<path d="M603.70,232.15H609.90L606.80,226.90Z" fill="none" stroke="#7e2a30" stroke-width="1.05" stroke-linejoin="miter"/>
<path d="M404.05,154.70H410.55L407.30,160.20Z" fill="#0d6b1f"/>
<path d="M409.35,152.30H415.85L412.60,157.80Z" fill="#0d6b1f"/>
<path d="M415.05,149.60H421.55L418.30,155.10Z" fill="#0d6b1f"/>
<path d="M420.75,147.00H427.25L424.00,152.50Z" fill="#0d6b1f"/>
<path d="M426.55,145.20H433.05L429.80,150.70Z" fill="#0d6b1f"/>
<path d="M433.35,144.70H439.85L436.60,150.20Z" fill="#0d6b1f"/>
<path d="M439.55,144.80H446.05L442.80,150.30Z" fill="#0d6b1f"/>
<path d="M447.05,144.60H453.55L450.30,150.10Z" fill="#0d6b1f"/>
<path d="M454.75,146.00H461.25L458.00,151.50Z" fill="#0d6b1f"/>
<path d="M462.35,148.30H468.85L465.60,153.80Z" fill="#0d6b1f"/>
<path d="M470.85,150.80H477.35L474.10,156.30Z" fill="#0d6b1f"/>
<path d="M479.95,151.80H486.45L483.20,157.30Z" fill="#0d6b1f"/>
<path d="M490.05,151.10H496.55L493.30,156.60Z" fill="#0d6b1f"/>
<path d="M495.55,151.60H502.05L498.80,157.10Z" fill="#0d6b1f"/>
<path d="M500.85,154.70H507.35L504.10,160.20Z" fill="#0d6b1f"/>
<path d="M506.15,155.80H512.65L509.40,161.30Z" fill="#0d6b1f"/>
<path d="M509.65,157.70H516.15L512.90,163.20Z" fill="#0d6b1f"/>
<path d="M512.65,160.00H519.15L515.90,165.50Z" fill="#0d6b1f"/>
<path d="M515.55,163.00H522.05L518.80,168.50Z" fill="#0d6b1f"/>
<path d="M518.55,165.90H525.05L521.80,171.40Z" fill="#0d6b1f"/>
<path d="M521.45,168.90H527.95L524.70,174.40Z" fill="#0d6b1f"/>
<path d="M524.25,172.70H530.75L527.50,178.20Z" fill="#0d6b1f"/>
<path d="M527.45,177.00H533.95L530.70,182.50Z" fill="#0d6b1f"/>
<path d="M531.05,181.90H537.55L534.30,187.40Z" fill="#0d6b1f"/>
<path d="M537.45,187.20H543.95L540.70,192.70Z" fill="#0d6b1f"/>
<path d="M544.35,188.90H550.85L547.60,194.40Z" fill="#0d6b1f"/>
<path d="M551.75,192.20H558.25L555.00,197.70Z" fill="#0d6b1f"/>
<path d="M559.45,195.90H565.95L562.70,201.40Z" fill="#0d6b1f"/>
<path d="M567.35,195.20H573.85L570.60,200.70Z" fill="#0d6b1f"/>
<path d="M576.15,196.30H582.65L579.40,201.80Z" fill="#0d6b1f"/>
<path d="M584.95,189.20H591.45L588.20,194.70Z" fill="#0d6b1f"/>
<path d="M594.35,182.70H600.85L597.60,188.20Z" fill="#0d6b1f"/>
<path d="M603.85,177.30H610.35L607.10,182.80Z" fill="#0d6b1f"/>
<circle cx="407.70" cy="142.50" r="2.2" fill="none" stroke="#2626b8" stroke-width="1.1"/>
<circle cx="412.60" cy="140.00" r="2.2" fill="none" stroke="#2626b8" stroke-width="1.1"/>
<circle cx="418.60" cy="136.20" r="2.2" fill="none" stroke="#2626b8" stroke-width="1.1"/>
<circle cx="423.80" cy="133.10" r="2.2" fill="none" stroke="#2626b8" stroke-width="1.1"/>
<circle cx="429.60" cy="130.90" r="2.2" fill="none" stroke="#2626b8" stroke-width="1.1"/>
<circle cx="436.30" cy="129.10" r="2.2" fill="none" stroke="#2626b8" stroke-width="1.1"/>
<circle cx="442.70" cy="128.50" r="2.2" fill="none" stroke="#2626b8" stroke-width="1.1"/>
<circle cx="450.20" cy="127.70" r="2.2" fill="none" stroke="#2626b8" stroke-width="1.1"/>
<circle cx="457.80" cy="128.00" r="2.2" fill="none" stroke="#2626b8" stroke-width="1.1"/>
<circle cx="465.50" cy="129.40" r="2.2" fill="none" stroke="#2626b8" stroke-width="1.1"/>
<circle cx="474.10" cy="130.90" r="2.2" fill="none" stroke="#2626b8" stroke-width="1.1"/>
<circle cx="483.20" cy="131.50" r="2.2" fill="none" stroke="#2626b8" stroke-width="1.1"/>
<circle cx="493.00" cy="130.30" r="2.2" fill="none" stroke="#2626b8" stroke-width="1.1"/>
<circle cx="498.30" cy="129.90" r="2.2" fill="none" stroke="#2626b8" stroke-width="1.1"/>
<circle cx="503.50" cy="132.90" r="2.2" fill="none" stroke="#2626b8" stroke-width="1.1"/>
<circle cx="509.00" cy="133.80" r="2.2" fill="none" stroke="#2626b8" stroke-width="1.1"/>
<circle cx="512.10" cy="134.90" r="2.2" fill="none" stroke="#2626b8" stroke-width="1.1"/>
<circle cx="514.70" cy="137.30" r="2.2" fill="none" stroke="#2626b8" stroke-width="1.1"/>
<circle cx="517.30" cy="139.00" r="2.2" fill="none" stroke="#2626b8" stroke-width="1.1"/>
<circle cx="519.80" cy="140.50" r="2.2" fill="none" stroke="#2626b8" stroke-width="1.1"/>
<circle cx="522.00" cy="142.00" r="2.2" fill="none" stroke="#2626b8" stroke-width="1.1"/>
<circle cx="524.50" cy="143.60" r="2.2" fill="none" stroke="#2626b8" stroke-width="1.1"/>
<circle cx="527.10" cy="146.30" r="2.2" fill="none" stroke="#2626b8" stroke-width="1.1"/>
<circle cx="530.50" cy="148.70" r="2.2" fill="none" stroke="#2626b8" stroke-width="1.1"/>
<circle cx="533.80" cy="153.20" r="2.2" fill="none" stroke="#2626b8" stroke-width="1.1"/>
<circle cx="540.00" cy="156.30" r="2.2" fill="none" stroke="#2626b8" stroke-width="1.1"/>
<circle cx="548.20" cy="160.20" r="2.2" fill="none" stroke="#2626b8" stroke-width="1.1"/>
<circle cx="554.90" cy="162.40" r="2.2" fill="none" stroke="#2626b8" stroke-width="1.1"/>
<circle cx="563.20" cy="164.70" r="2.2" fill="none" stroke="#2626b8" stroke-width="1.1"/>
<circle cx="570.60" cy="164.10" r="2.2" fill="none" stroke="#2626b8" stroke-width="1.1"/>
<circle cx="579.40" cy="162.30" r="2.2" fill="none" stroke="#2626b8" stroke-width="1.1"/>
<circle cx="588.00" cy="157.90" r="2.2" fill="none" stroke="#2626b8" stroke-width="1.1"/>
<circle cx="597.10" cy="152.00" r="2.2" fill="none" stroke="#2626b8" stroke-width="1.1"/>
<circle cx="606.80" cy="144.90" r="2.2" fill="none" stroke="#2626b8" stroke-width="1.1"/>
<rect x="400.05" y="129.65" width="6.1" height="6.1" fill="#ff0000"/>
<rect x="404.85" y="126.55" width="6.1" height="6.1" fill="#ff0000"/>
<rect x="410.15" y="122.95" width="6.1" height="6.1" fill="#ff0000"/>
<rect x="415.45" y="119.85" width="6.1" height="6.1" fill="#ff0000"/>
<rect x="420.75" y="117.35" width="6.1" height="6.1" fill="#ff0000"/>
<rect x="426.95" y="115.15" width="6.1" height="6.1" fill="#ff0000"/>
<rect x="433.85" y="111.95" width="6.1" height="6.1" fill="#ff0000"/>
<rect x="440.95" y="111.45" width="6.1" height="6.1" fill="#ff0000"/>
<rect x="447.95" y="111.25" width="6.1" height="6.1" fill="#ff0000"/>
<rect x="455.55" y="111.25" width="6.1" height="6.1" fill="#ff0000"/>
<rect x="462.75" y="111.15" width="6.1" height="6.1" fill="#ff0000"/>
<rect x="471.25" y="109.15" width="6.1" height="6.1" fill="#ff0000"/>
<rect x="477.75" y="106.55" width="6.1" height="6.1" fill="#ff0000"/>
<rect x="483.45" y="104.35" width="6.1" height="6.1" fill="#ff0000"/>
<rect x="489.35" y="103.05" width="6.1" height="6.1" fill="#ff0000"/>
<rect x="495.15" y="102.25" width="6.1" height="6.1" fill="#ff0000"/>
<rect x="501.05" y="101.65" width="6.1" height="6.1" fill="#ff0000"/>
<rect x="506.95" y="101.85" width="6.1" height="6.1" fill="#ff0000"/>
<rect x="512.85" y="103.05" width="6.1" height="6.1" fill="#ff0000"/>
<rect x="518.75" y="106.15" width="6.1" height="6.1" fill="#ff0000"/>
<rect x="524.55" y="108.45" width="6.1" height="6.1" fill="#ff0000"/>
<rect x="531.45" y="111.75" width="6.1" height="6.1" fill="#ff0000"/>
<rect x="537.95" y="115.45" width="6.1" height="6.1" fill="#ff0000"/>
<rect x="545.25" y="123.75" width="6.1" height="6.1" fill="#ff0000"/>
<rect x="552.35" y="129.95" width="6.1" height="6.1" fill="#ff0000"/>
<rect x="567.95" y="141.05" width="6.1" height="6.1" fill="#ff0000"/>
<rect x="585.45" y="129.85" width="6.1" height="6.1" fill="#ff0000"/>
<rect x="594.35" y="122.95" width="6.1" height="6.1" fill="#ff0000"/>
<rect x="602.95" y="114.55" width="6.1" height="6.1" fill="#ff0000"/>
<rect x="609.75" y="107.95" width="6.1" height="6.1" fill="#ff0000"/>
<rect x="614.55" y="97.85" width="6.1" height="6.1" fill="#ff0000"/>
<rect x="619.85" y="108.75" width="6.1" height="6.1" fill="#ff0000"/>
<rect x="625.15" y="94.25" width="6.1" height="6.1" fill="#ff0000"/>
<rect x="630.75" y="128.35" width="6.1" height="6.1" fill="#ff0000"/>
<rect x="636.45" y="117.55" width="6.1" height="6.1" fill="#ff0000"/>
<rect x="400.00" y="122.00" width="4.8" height="4.8" fill="none" stroke="#6e2a2c" stroke-width="1.0"/>
<rect x="404.90" y="118.20" width="4.8" height="4.8" fill="none" stroke="#6e2a2c" stroke-width="1.0"/>
<rect x="410.20" y="114.70" width="4.8" height="4.8" fill="none" stroke="#6e2a2c" stroke-width="1.0"/>
<rect x="415.70" y="110.70" width="4.8" height="4.8" fill="none" stroke="#6e2a2c" stroke-width="1.0"/>
<rect x="421.50" y="107.30" width="4.8" height="4.8" fill="none" stroke="#6e2a2c" stroke-width="1.0"/>
<rect x="427.40" y="105.10" width="4.8" height="4.8" fill="none" stroke="#6e2a2c" stroke-width="1.0"/>
<rect x="432.90" y="103.20" width="4.8" height="4.8" fill="none" stroke="#6e2a2c" stroke-width="1.0"/>
<rect x="436.10" y="103.40" width="4.8" height="4.8" fill="none" stroke="#6e2a2c" stroke-width="1.0"/>
<rect x="440.50" y="103.50" width="4.8" height="4.8" fill="none" stroke="#6e2a2c" stroke-width="1.0"/>
<rect x="444.70" y="101.10" width="4.8" height="4.8" fill="none" stroke="#6e2a2c" stroke-width="1.0"/>
<rect x="448.20" y="100.90" width="4.8" height="4.8" fill="none" stroke="#6e2a2c" stroke-width="1.0"/>
<rect x="452.30" y="100.90" width="4.8" height="4.8" fill="none" stroke="#6e2a2c" stroke-width="1.0"/>
<rect x="455.60" y="100.40" width="4.8" height="4.8" fill="none" stroke="#6e2a2c" stroke-width="1.0"/>
<rect x="459.30" y="98.50" width="4.8" height="4.8" fill="none" stroke="#6e2a2c" stroke-width="1.0"/>
<rect x="463.30" y="98.60" width="4.8" height="4.8" fill="none" stroke="#6e2a2c" stroke-width="1.0"/>
<rect x="467.30" y="97.90" width="4.8" height="4.8" fill="none" stroke="#6e2a2c" stroke-width="1.0"/>
<rect x="471.80" y="98.10" width="4.8" height="4.8" fill="none" stroke="#6e2a2c" stroke-width="1.0"/>
<rect x="476.40" y="96.20" width="4.8" height="4.8" fill="none" stroke="#6e2a2c" stroke-width="1.0"/>
<rect x="481.20" y="94.10" width="4.8" height="4.8" fill="none" stroke="#6e2a2c" stroke-width="1.0"/>
<rect x="485.70" y="94.10" width="4.8" height="4.8" fill="none" stroke="#6e2a2c" stroke-width="1.0"/>
<rect x="491.00" y="91.60" width="4.8" height="4.8" fill="none" stroke="#6e2a2c" stroke-width="1.0"/>
<rect x="501.60" y="90.10" width="4.8" height="4.8" fill="none" stroke="#6e2a2c" stroke-width="1.0"/>
<rect x="512.10" y="90.60" width="4.8" height="4.8" fill="none" stroke="#6e2a2c" stroke-width="1.0"/>
<rect x="525.20" y="92.30" width="4.8" height="4.8" fill="none" stroke="#6e2a2c" stroke-width="1.0"/>
<rect x="538.50" y="98.50" width="4.8" height="4.8" fill="none" stroke="#6e2a2c" stroke-width="1.0"/>
<rect x="552.60" y="112.40" width="4.8" height="4.8" fill="none" stroke="#6e2a2c" stroke-width="1.0"/>
<rect x="568.10" y="114.70" width="4.8" height="4.8" fill="none" stroke="#6e2a2c" stroke-width="1.0"/>
<rect x="585.50" y="109.30" width="4.8" height="4.8" fill="none" stroke="#6e2a2c" stroke-width="1.0"/>
<rect x="604.70" y="94.70" width="4.8" height="4.8" fill="none" stroke="#6e2a2c" stroke-width="1.0"/>
<rect x="625.60" y="77.60" width="4.8" height="4.8" fill="none" stroke="#6e2a2c" stroke-width="1.0"/>
<path d="M400.35,83.95L405.45,89.05M400.35,89.05L405.45,83.95" stroke="#1a1a1a" stroke-width="1.0" fill="none"/>
<path d="M405.55,78.25L410.65,83.35M405.55,83.35L410.65,78.25" stroke="#1a1a1a" stroke-width="1.0" fill="none"/>
<path d="M410.75,72.05L415.85,77.15M410.75,77.15L415.85,72.05" stroke="#1a1a1a" stroke-width="1.0" fill="none"/>
<path d="M416.05,65.75L421.15,70.85M416.05,70.85L421.15,65.75" stroke="#1a1a1a" stroke-width="1.0" fill="none"/>
<path d="M421.75,61.15L426.85,66.25M421.75,66.25L426.85,61.15" stroke="#1a1a1a" stroke-width="1.0" fill="none"/>
<path d="M427.55,57.95L432.65,63.05M427.55,63.05L432.65,57.95" stroke="#1a1a1a" stroke-width="1.0" fill="none"/>
<path d="M433.85,55.85L438.95,60.95M433.85,60.95L438.95,55.85" stroke="#1a1a1a" stroke-width="1.0" fill="none"/>
<path d="M436.79,56.77L441.89,61.87M436.79,61.87L441.89,56.77" stroke="#1a1a1a" stroke-width="1.0" fill="none"/>
<path d="M439.73,57.70L444.83,62.80M439.73,62.80L444.83,57.70" stroke="#1a1a1a" stroke-width="1.0" fill="none"/>
<path d="M442.67,58.62L447.77,63.72M442.67,63.72L447.77,58.62" stroke="#1a1a1a" stroke-width="1.0" fill="none"/>
<path d="M445.60,59.54L450.70,64.64M445.60,64.64L450.70,59.54" stroke="#1a1a1a" stroke-width="1.0" fill="none"/>
<path d="M448.54,60.46L453.64,65.56M448.54,65.56L453.64,60.46" stroke="#1a1a1a" stroke-width="1.0" fill="none"/>
<path d="M451.48,61.39L456.58,66.49M451.48,66.49L456.58,61.39" stroke="#1a1a1a" stroke-width="1.0" fill="none"/>
<path d="M454.42,62.31L459.52,67.41M454.42,67.41L459.52,62.31" stroke="#1a1a1a" stroke-width="1.0" fill="none"/>
<path d="M457.36,63.23L462.46,68.33M457.36,68.33L462.46,63.23" stroke="#1a1a1a" stroke-width="1.0" fill="none"/>
<path d="M460.30,64.15L465.40,69.25M460.30,69.25L465.40,64.15" stroke="#1a1a1a" stroke-width="1.0" fill="none"/>
<path d="M463.23,65.08L468.33,70.18M463.23,70.18L468.33,65.08" stroke="#1a1a1a" stroke-width="1.0" fill="none"/>
<path d="M466.17,66.00L471.27,71.10M466.17,71.10L471.27,66.00" stroke="#1a1a1a" stroke-width="1.0" fill="none"/>
<path d="M469.11,66.92L474.21,72.02M469.11,72.02L474.21,66.92" stroke="#1a1a1a" stroke-width="1.0" fill="none"/>
<path d="M472.05,67.84L477.15,72.94M472.05,72.94L477.15,67.84" stroke="#1a1a1a" stroke-width="1.0" fill="none"/>
<text x="293.5" y="24" font-size="19" style="font-family:'Liberation Serif',serif" text-anchor="middle" fill="#111">(a)</text>
<text x="643.0" y="24" font-size="19" style="font-family:'Liberation Serif',serif" text-anchor="middle" fill="#111">(b)</text>
<text x="85.0" y="71.0" font-size="14" text-anchor="start" fill="#111">RL3</text>
<text x="168.8" y="74.3" font-size="14" text-anchor="start" fill="#111">GL1</text>
<text x="270.8" y="83.3" font-size="14" text-anchor="start" fill="#111">UVL</text>
<text x="76.8" y="204.2" font-size="14" text-anchor="start" fill="#111">RL1</text>
<text x="142.5" y="205.6" font-size="14" text-anchor="start" fill="#111">YL1</text>
<text x="427.5" y="51.0" font-size="14" text-anchor="start" fill="#111">RL3</text>
<text x="511.5" y="84.3" font-size="14" text-anchor="start" fill="#111">GL1</text>
<text x="610.0" y="69.5" font-size="14" text-anchor="start" fill="#111">UVL</text>
<text x="424.0" y="193.8" font-size="14" text-anchor="start" fill="#111">RL1</text>
<text x="482.5" y="208.6" font-size="14" text-anchor="start" fill="#111">YL1</text>
<rect x="277.79999999999995" y="149.1" width="55" height="37" fill="#fff"/>
<text x="289.0" y="164.6" font-size="14" text-anchor="start" fill="#111">Time</text>
<text x="278.4" y="181.4" font-size="14" text-anchor="start" fill="#111">delay (s)</text>
<g transform="translate(280.8,198.6) scale(1.12) translate(-280.8,-198.6)"><path d="M278.25,196.05L283.35,201.15M278.25,201.15L283.35,196.05" stroke="#1a1a1a" stroke-width="1.0" fill="none"/></g>
<text x="293.0" y="204.20" font-size="14.0" fill="#111">10<tspan font-size="9.0" dy="-7.6">-8</tspan></text>
<g transform="translate(280.8,214.8) scale(0.82) translate(-280.8,-214.8)"><rect x="278.40" y="212.40" width="4.8" height="4.8" fill="none" stroke="#6e2a2c" stroke-width="1.0"/></g>
<text x="293.0" y="220.40" font-size="14.0" fill="#111">10<tspan font-size="9.0" dy="-7.6">-7</tspan></text>
<g transform="translate(280.8,232.8) scale(0.82) translate(-280.8,-232.8)"><rect x="277.75" y="229.75" width="6.1" height="6.1" fill="#ff0000"/></g>
<text x="293.0" y="238.40" font-size="14.0" fill="#111">10<tspan font-size="9.0" dy="-7.6">-6</tspan></text>
<g transform="translate(280.8,249.2) scale(0.82) translate(-280.8,-249.2)"><circle cx="280.80" cy="249.20" r="2.2" fill="none" stroke="#2626b8" stroke-width="1.1"/></g>
<text x="293.0" y="254.80" font-size="14.0" fill="#111">10<tspan font-size="9.0" dy="-7.6">-5</tspan></text>
<g transform="translate(280.8,266.6) scale(0.82) translate(-280.8,-266.6)"><path d="M277.55,264.00H284.05L280.80,269.50Z" fill="#0d6b1f"/></g>
<text x="293.0" y="272.20" font-size="14.0" fill="#111">10<tspan font-size="9.0" dy="-7.6">-4</tspan></text>
<g transform="translate(280.8,284.2) scale(0.82) translate(-280.8,-284.2)"><path d="M277.70,286.65H283.90L280.80,281.40Z" fill="none" stroke="#7e2a30" stroke-width="1.05" stroke-linejoin="miter"/></g>
<text x="293.0" y="289.80" font-size="14.0" fill="#111">10<tspan font-size="9.0" dy="-7.6">-3</tspan></text>
<rect x="621.8" y="144.9" width="55" height="37" fill="#fff"/>
<text x="633.0" y="160.4" font-size="14" text-anchor="start" fill="#111">Time</text>
<text x="622.4" y="177.20000000000002" font-size="14" text-anchor="start" fill="#111">delay (s)</text>
<g transform="translate(631.6,196.7) scale(1.12) translate(-631.6,-196.7)"><path d="M629.05,194.15L634.15,199.25M629.05,199.25L634.15,194.15" stroke="#1a1a1a" stroke-width="1.0" fill="none"/></g>
<text x="644.2" y="202.30" font-size="14.0" fill="#111">10<tspan font-size="9.0" dy="-7.6">-8</tspan></text>
<g transform="translate(631.6,214.0) scale(0.82) translate(-631.6,-214.0)"><rect x="629.20" y="211.60" width="4.8" height="4.8" fill="none" stroke="#6e2a2c" stroke-width="1.0"/></g>
<text x="644.2" y="219.60" font-size="14.0" fill="#111">10<tspan font-size="9.0" dy="-7.6">-7</tspan></text>
<g transform="translate(631.6,231.4) scale(0.82) translate(-631.6,-231.4)"><rect x="628.55" y="228.35" width="6.1" height="6.1" fill="#ff0000"/></g>
<text x="644.2" y="237.00" font-size="14.0" fill="#111">10<tspan font-size="9.0" dy="-7.6">-6</tspan></text>
<g transform="translate(631.6,248.9) scale(0.82) translate(-631.6,-248.9)"><circle cx="631.60" cy="248.90" r="2.2" fill="none" stroke="#2626b8" stroke-width="1.1"/></g>
<text x="644.2" y="254.50" font-size="14.0" fill="#111">10<tspan font-size="9.0" dy="-7.6">-5</tspan></text>
<g transform="translate(631.6,265.9) scale(0.82) translate(-631.6,-265.9)"><path d="M628.35,263.30H634.85L631.60,268.80Z" fill="#0d6b1f"/></g>
<text x="644.2" y="271.50" font-size="14.0" fill="#111">10<tspan font-size="9.0" dy="-7.6">-4</tspan></text>
<g transform="translate(631.6,283.1) scale(0.82) translate(-631.6,-283.1)"><path d="M628.50,285.55H634.70L631.60,280.30Z" fill="none" stroke="#7e2a30" stroke-width="1.05" stroke-linejoin="miter"/></g>
<text x="644.2" y="288.70" font-size="14.0" fill="#111">10<tspan font-size="9.0" dy="-7.6">-3</tspan></text>
<rect x="52.0" y="0.5" width="283.5" height="298.0" fill="none" stroke="#111" stroke-width="1"/>
<path d="M52.0,298.50h6M335.5,298.50h-6M52.0,287.90h3.6M335.5,287.90h-3.6M52.0,281.71h3.6M335.5,281.71h-3.6M52.0,277.31h3.6M335.5,277.31h-3.6M52.0,273.90h3.6M335.5,273.90h-3.6M52.0,271.11h3.6M335.5,271.11h-3.6M52.0,268.75h3.6M335.5,268.75h-3.6M52.0,266.71h3.6M335.5,266.71h-3.6M52.0,264.91h3.6M335.5,264.91h-3.6M52.0,263.30h6M335.5,263.30h-6M52.0,252.70h3.6M335.5,252.70h-3.6M52.0,246.51h3.6M335.5,246.51h-3.6M52.0,242.11h3.6M335.5,242.11h-3.6M52.0,238.70h3.6M335.5,238.70h-3.6M52.0,235.91h3.6M335.5,235.91h-3.6M52.0,233.55h3.6M335.5,233.55h-3.6M52.0,231.51h3.6M335.5,231.51h-3.6M52.0,229.71h3.6M335.5,229.71h-3.6M52.0,228.10h6M335.5,228.10h-6M52.0,217.50h3.6M335.5,217.50h-3.6M52.0,211.31h3.6M335.5,211.31h-3.6M52.0,206.91h3.6M335.5,206.91h-3.6M52.0,203.50h3.6M335.5,203.50h-3.6M52.0,200.71h3.6M335.5,200.71h-3.6M52.0,198.35h3.6M335.5,198.35h-3.6M52.0,196.31h3.6M335.5,196.31h-3.6M52.0,194.51h3.6M335.5,194.51h-3.6M52.0,192.90h6M335.5,192.90h-6M52.0,182.30h3.6M335.5,182.30h-3.6M52.0,176.11h3.6M335.5,176.11h-3.6M52.0,171.71h3.6M335.5,171.71h-3.6M52.0,168.30h3.6M335.5,168.30h-3.6M52.0,165.51h3.6M335.5,165.51h-3.6M52.0,163.15h3.6M335.5,163.15h-3.6M52.0,161.11h3.6M335.5,161.11h-3.6M52.0,159.31h3.6M335.5,159.31h-3.6M52.0,157.70h6M335.5,157.70h-6M52.0,147.10h3.6M335.5,147.10h-3.6M52.0,140.91h3.6M335.5,140.91h-3.6M52.0,136.51h3.6M335.5,136.51h-3.6M52.0,133.10h3.6M335.5,133.10h-3.6M52.0,130.31h3.6M335.5,130.31h-3.6M52.0,127.95h3.6M335.5,127.95h-3.6M52.0,125.91h3.6M335.5,125.91h-3.6M52.0,124.11h3.6M335.5,124.11h-3.6M52.0,122.50h6M335.5,122.50h-6M52.0,111.90h3.6M335.5,111.90h-3.6M52.0,105.71h3.6M335.5,105.71h-3.6M52.0,101.31h3.6M335.5,101.31h-3.6M52.0,97.90h3.6M335.5,97.90h-3.6M52.0,95.11h3.6M335.5,95.11h-3.6M52.0,92.75h3.6M335.5,92.75h-3.6M52.0,90.71h3.6M335.5,90.71h-3.6M52.0,88.91h3.6M335.5,88.91h-3.6M52.0,87.30h6M335.5,87.30h-6M52.0,76.70h3.6M335.5,76.70h-3.6M52.0,70.51h3.6M335.5,70.51h-3.6M52.0,66.11h3.6M335.5,66.11h-3.6M52.0,62.70h3.6M335.5,62.70h-3.6M52.0,59.91h3.6M335.5,59.91h-3.6M52.0,57.55h3.6M335.5,57.55h-3.6M52.0,55.51h3.6M335.5,55.51h-3.6M52.0,53.71h3.6M335.5,53.71h-3.6M52.0,52.10h6M335.5,52.10h-6M52.0,41.50h3.6M335.5,41.50h-3.6M52.0,35.31h3.6M335.5,35.31h-3.6M52.0,30.91h3.6M335.5,30.91h-3.6M52.0,27.50h3.6M335.5,27.50h-3.6M52.0,24.71h3.6M335.5,24.71h-3.6M52.0,22.35h3.6M335.5,22.35h-3.6M52.0,20.31h3.6M335.5,20.31h-3.6M52.0,18.51h3.6M335.5,18.51h-3.6M52.0,16.90h6M335.5,16.90h-6M52.0,6.30h3.6M335.5,6.30h-3.6M64.87,298.5v-3M77.74,298.5v-3M90.61,298.5v-3M103.48,298.5v-3M116.35,298.5v-5M129.22,298.5v-3M142.09,298.5v-3M154.96,298.5v-3M167.83,298.5v-3M180.70,298.5v-5M193.57,298.5v-3M206.44,298.5v-3M219.31,298.5v-3M232.18,298.5v-3M245.05,298.5v-5M257.92,298.5v-3M270.79,298.5v-3M283.66,298.5v-3M296.53,298.5v-3M309.40,298.5v-5M322.27,298.5v-3" stroke="#111" stroke-width="1" fill="none"/>
<text x="51.40" y="316.6" font-size="14.0" text-anchor="middle" fill="#111">1.5</text>
<text x="115.75" y="316.6" font-size="14.0" text-anchor="middle" fill="#111">2</text>
<text x="180.10" y="316.6" font-size="14.0" text-anchor="middle" fill="#111">2.5</text>
<text x="244.45" y="316.6" font-size="14.0" text-anchor="middle" fill="#111">3</text>
<text x="308.80" y="316.6" font-size="14.0" text-anchor="middle" fill="#111">3.5</text>
<text x="46.00" y="305.10" font-size="14.0" text-anchor="end" fill="#111">10<tspan font-size="9.0" dy="-7.6">-7</tspan></text>
<text x="46.00" y="269.90" font-size="14.0" text-anchor="end" fill="#111">10<tspan font-size="9.0" dy="-7.6">-6</tspan></text>
<text x="46.00" y="234.70" font-size="14.0" text-anchor="end" fill="#111">10<tspan font-size="9.0" dy="-7.6">-5</tspan></text>
<text x="46.00" y="199.50" font-size="14.0" text-anchor="end" fill="#111">10<tspan font-size="9.0" dy="-7.6">-4</tspan></text>
<text x="46.00" y="164.30" font-size="14.0" text-anchor="end" fill="#111">10<tspan font-size="9.0" dy="-7.6">-3</tspan></text>
<text x="46.00" y="129.10" font-size="14.0" text-anchor="end" fill="#111">10<tspan font-size="9.0" dy="-7.6">-2</tspan></text>
<text x="46.00" y="93.90" font-size="14.0" text-anchor="end" fill="#111">10<tspan font-size="9.0" dy="-7.6">-1</tspan></text>
<text x="46.00" y="58.70" font-size="14.0" text-anchor="end" fill="#111">10<tspan font-size="9.0" dy="-7.6">0</tspan></text>
<text x="46.00" y="23.50" font-size="14.0" text-anchor="end" fill="#111">10<tspan font-size="9.0" dy="-7.6">1</tspan></text>
<text x="190.6" y="336.6" font-size="14.4" text-anchor="middle" fill="#111">Photon Energy (eV)</text>
<rect x="401.5" y="0.5" width="282.5" height="298.0" fill="none" stroke="#111" stroke-width="1"/>
<path d="M401.5,298.50h6M684.0,298.50h-6M401.5,287.90h3.6M684.0,287.90h-3.6M401.5,281.71h3.6M684.0,281.71h-3.6M401.5,277.31h3.6M684.0,277.31h-3.6M401.5,273.90h3.6M684.0,273.90h-3.6M401.5,271.11h3.6M684.0,271.11h-3.6M401.5,268.75h3.6M684.0,268.75h-3.6M401.5,266.71h3.6M684.0,266.71h-3.6M401.5,264.91h3.6M684.0,264.91h-3.6M401.5,263.30h6M684.0,263.30h-6M401.5,252.70h3.6M684.0,252.70h-3.6M401.5,246.51h3.6M684.0,246.51h-3.6M401.5,242.11h3.6M684.0,242.11h-3.6M401.5,238.70h3.6M684.0,238.70h-3.6M401.5,235.91h3.6M684.0,235.91h-3.6M401.5,233.55h3.6M684.0,233.55h-3.6M401.5,231.51h3.6M684.0,231.51h-3.6M401.5,229.71h3.6M684.0,229.71h-3.6M401.5,228.10h6M684.0,228.10h-6M401.5,217.50h3.6M684.0,217.50h-3.6M401.5,211.31h3.6M684.0,211.31h-3.6M401.5,206.91h3.6M684.0,206.91h-3.6M401.5,203.50h3.6M684.0,203.50h-3.6M401.5,200.71h3.6M684.0,200.71h-3.6M401.5,198.35h3.6M684.0,198.35h-3.6M401.5,196.31h3.6M684.0,196.31h-3.6M401.5,194.51h3.6M684.0,194.51h-3.6M401.5,192.90h6M684.0,192.90h-6M401.5,182.30h3.6M684.0,182.30h-3.6M401.5,176.11h3.6M684.0,176.11h-3.6M401.5,171.71h3.6M684.0,171.71h-3.6M401.5,168.30h3.6M684.0,168.30h-3.6M401.5,165.51h3.6M684.0,165.51h-3.6M401.5,163.15h3.6M684.0,163.15h-3.6M401.5,161.11h3.6M684.0,161.11h-3.6M401.5,159.31h3.6M684.0,159.31h-3.6M401.5,157.70h6M684.0,157.70h-6M401.5,147.10h3.6M684.0,147.10h-3.6M401.5,140.91h3.6M684.0,140.91h-3.6M401.5,136.51h3.6M684.0,136.51h-3.6M401.5,133.10h3.6M684.0,133.10h-3.6M401.5,130.31h3.6M684.0,130.31h-3.6M401.5,127.95h3.6M684.0,127.95h-3.6M401.5,125.91h3.6M684.0,125.91h-3.6M401.5,124.11h3.6M684.0,124.11h-3.6M401.5,122.50h6M684.0,122.50h-6M401.5,111.90h3.6M684.0,111.90h-3.6M401.5,105.71h3.6M684.0,105.71h-3.6M401.5,101.31h3.6M684.0,101.31h-3.6M401.5,97.90h3.6M684.0,97.90h-3.6M401.5,95.11h3.6M684.0,95.11h-3.6M401.5,92.75h3.6M684.0,92.75h-3.6M401.5,90.71h3.6M684.0,90.71h-3.6M401.5,88.91h3.6M684.0,88.91h-3.6M401.5,87.30h6M684.0,87.30h-6M401.5,76.70h3.6M684.0,76.70h-3.6M401.5,70.51h3.6M684.0,70.51h-3.6M401.5,66.11h3.6M684.0,66.11h-3.6M401.5,62.70h3.6M684.0,62.70h-3.6M401.5,59.91h3.6M684.0,59.91h-3.6M401.5,57.55h3.6M684.0,57.55h-3.6M401.5,55.51h3.6M684.0,55.51h-3.6M401.5,53.71h3.6M684.0,53.71h-3.6M401.5,52.10h6M684.0,52.10h-6M401.5,41.50h3.6M684.0,41.50h-3.6M401.5,35.31h3.6M684.0,35.31h-3.6M401.5,30.91h3.6M684.0,30.91h-3.6M401.5,27.50h3.6M684.0,27.50h-3.6M401.5,24.71h3.6M684.0,24.71h-3.6M401.5,22.35h3.6M684.0,22.35h-3.6M401.5,20.31h3.6M684.0,20.31h-3.6M401.5,18.51h3.6M684.0,18.51h-3.6M401.5,16.90h6M684.0,16.90h-6M401.5,6.30h3.6M684.0,6.30h-3.6M414.35,298.5v-3M427.20,298.5v-3M440.05,298.5v-3M452.90,298.5v-3M465.75,298.5v-5M478.60,298.5v-3M491.45,298.5v-3M504.30,298.5v-3M517.15,298.5v-3M530.00,298.5v-5M542.85,298.5v-3M555.70,298.5v-3M568.55,298.5v-3M581.40,298.5v-3M594.25,298.5v-5M607.10,298.5v-3M619.95,298.5v-3M632.80,298.5v-3M645.65,298.5v-3M658.50,298.5v-5M671.35,298.5v-3" stroke="#111" stroke-width="1" fill="none"/>
<text x="400.90" y="316.6" font-size="14.0" text-anchor="middle" fill="#111">1.5</text>
<text x="465.15" y="316.6" font-size="14.0" text-anchor="middle" fill="#111">2</text>
<text x="529.40" y="316.6" font-size="14.0" text-anchor="middle" fill="#111">2.5</text>
<text x="593.65" y="316.6" font-size="14.0" text-anchor="middle" fill="#111">3</text>
<text x="657.90" y="316.6" font-size="14.0" text-anchor="middle" fill="#111">3.5</text>
<text x="395.50" y="305.10" font-size="14.0" text-anchor="end" fill="#111">10<tspan font-size="9.0" dy="-7.6">-7</tspan></text>
<text x="395.50" y="269.90" font-size="14.0" text-anchor="end" fill="#111">10<tspan font-size="9.0" dy="-7.6">-6</tspan></text>
<text x="395.50" y="234.70" font-size="14.0" text-anchor="end" fill="#111">10<tspan font-size="9.0" dy="-7.6">-5</tspan></text>
<text x="395.50" y="199.50" font-size="14.0" text-anchor="end" fill="#111">10<tspan font-size="9.0" dy="-7.6">-4</tspan></text>
<text x="395.50" y="164.30" font-size="14.0" text-anchor="end" fill="#111">10<tspan font-size="9.0" dy="-7.6">-3</tspan></text>
<text x="395.50" y="129.10" font-size="14.0" text-anchor="end" fill="#111">10<tspan font-size="9.0" dy="-7.6">-2</tspan></text>
<text x="395.50" y="93.90" font-size="14.0" text-anchor="end" fill="#111">10<tspan font-size="9.0" dy="-7.6">-1</tspan></text>
<text x="395.50" y="58.70" font-size="14.0" text-anchor="end" fill="#111">10<tspan font-size="9.0" dy="-7.6">0</tspan></text>
<text x="395.50" y="23.50" font-size="14.0" text-anchor="end" fill="#111">10<tspan font-size="9.0" dy="-7.6">1</tspan></text>
<text x="540.1" y="336.6" font-size="14.4" text-anchor="middle" fill="#111">Photon Energy (eV)</text>
<text transform="translate(10.6,148.2) rotate(-90)" font-size="14.4" text-anchor="middle" fill="#111">PL Intensity (rel. units)</text>
<text transform="translate(359.9,148.2) rotate(-90)" font-size="14.4" text-anchor="middle" fill="#111">PL Intensity (rel. units)</text>
</svg></body></html>
